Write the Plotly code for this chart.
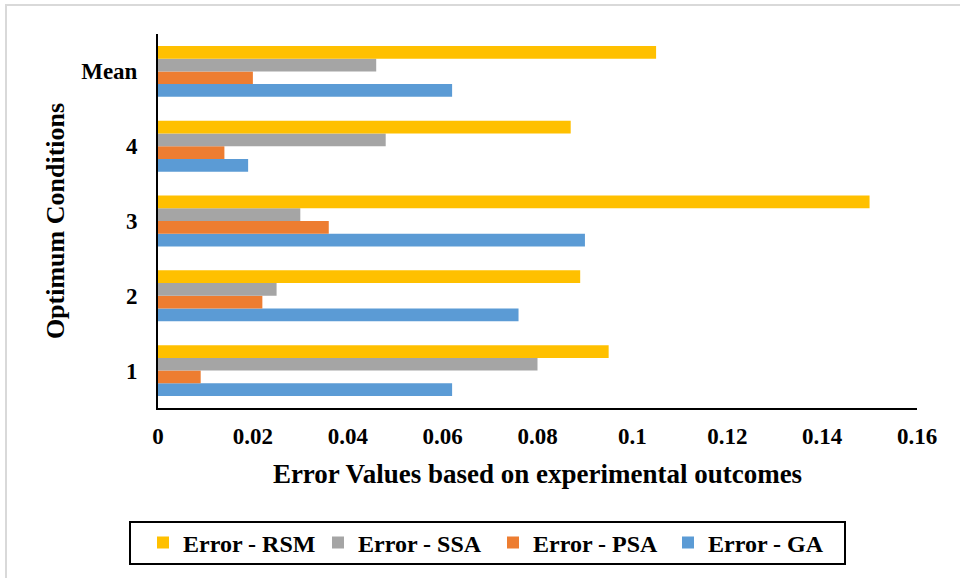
import plotly.graph_objects as go

categories = ["1", "2", "3", "4", "Mean"]
err_ga = [0.062, 0.076, 0.090, 0.019, 0.062]
err_psa = [0.009, 0.022, 0.036, 0.014, 0.020]
err_ssa = [0.080, 0.025, 0.030, 0.048, 0.046]
err_rsm = [0.095, 0.089, 0.150, 0.087, 0.105]
tick_vals = [0, 0.02, 0.04, 0.06, 0.08, 0.1, 0.12, 0.14, 0.16]
tick_text = ["0", "0.02", "0.04", "0.06", "0.08", "0.1", "0.12", "0.14", "0.16"]

FONT = "Liberation Serif, Times New Roman, serif"

series = [
    ("Error - GA", err_ga, "#5B9BD5"),
    ("Error - PSA", err_psa, "#ED7D31"),
    ("Error - SSA", err_ssa, "#A5A5A5"),
    ("Error - RSM", err_rsm, "#FFC000"),
]

fig = go.Figure()
for name, vals, color in series:
    fig.add_trace(go.Bar(
        y=categories, x=vals, name=name, orientation="h",
        marker=dict(color=color, line=dict(width=0)),
    ))

PW, PH = 759, 374  # plot area size in px
L, T = 158, 34


def px_x(x):
    return (x - L) / PW


def px_y(y):
    return (T + PH - y) / PH


fig.update_layout(
    width=960, height=578,
    margin=dict(l=158, r=43, t=34, b=170, autoexpand=False),
    paper_bgcolor="white", plot_bgcolor="white",
    barmode="group", bargap=0.32, bargroupgap=0,
    font=dict(family=FONT, color="black"),
    showlegend=True,
    legend=dict(
        orientation="h", traceorder="reversed",
        x=px_x(143), xanchor="left", y=px_y(543), yanchor="middle",
        bgcolor="rgba(0,0,0,0)", borderwidth=0,
        font=dict(family=FONT, size=24, color="black", weight="bold"),
        itemwidth=30, entrywidth=130, entrywidthmode="pixels",
    ),
    xaxis=dict(
        range=[0, 0.16], tickvals=tick_vals, ticktext=tick_text,
        showgrid=False, zeroline=False,
        showline=True, linecolor="black", linewidth=2,
        ticks="", ticklabelstandoff=6,
        tickfont=dict(family=FONT, size=23, color="black", weight="bold"),
        title=dict(text="Error Values based on experimental outcomes",
                   font=dict(family=FONT, size=27, color="black", weight="bold"),
                   standoff=17),
        automargin=False,
    ),
    yaxis=dict(
        type="category", range=[-0.5, 4.5],
        showgrid=False, zeroline=False,
        showline=True, linecolor="black", linewidth=2,
        ticks="", ticklabelstandoff=14,
        tickfont=dict(family=FONT, size=23, color="black", weight="bold"),
        title=dict(text="Optimum Conditions",
                   font=dict(family=FONT, size=26, color="black", weight="bold"),
                   standoff=9),
        automargin=False,
    ),
)

# light grey outer frame of the chart area
fig.add_shape(type="rect", xref="paper", yref="paper",
              x0=px_x(6), x1=2.0, y0=-2.0, y1=px_y(5),
              line=dict(color="#D9D9D9", width=2), fillcolor="rgba(0,0,0,0)",
              layer="below")
# legend frame
fig.add_shape(type="rect", xref="paper", yref="paper",
              x0=px_x(130), x1=px_x(845), y0=px_y(564), y1=px_y(522),
              line=dict(color="black", width=2), fillcolor="rgba(0,0,0,0)")

fig.write_html("out.html", config={"displayModeBar": False},
               post_script="document.body.style.margin='0';")
